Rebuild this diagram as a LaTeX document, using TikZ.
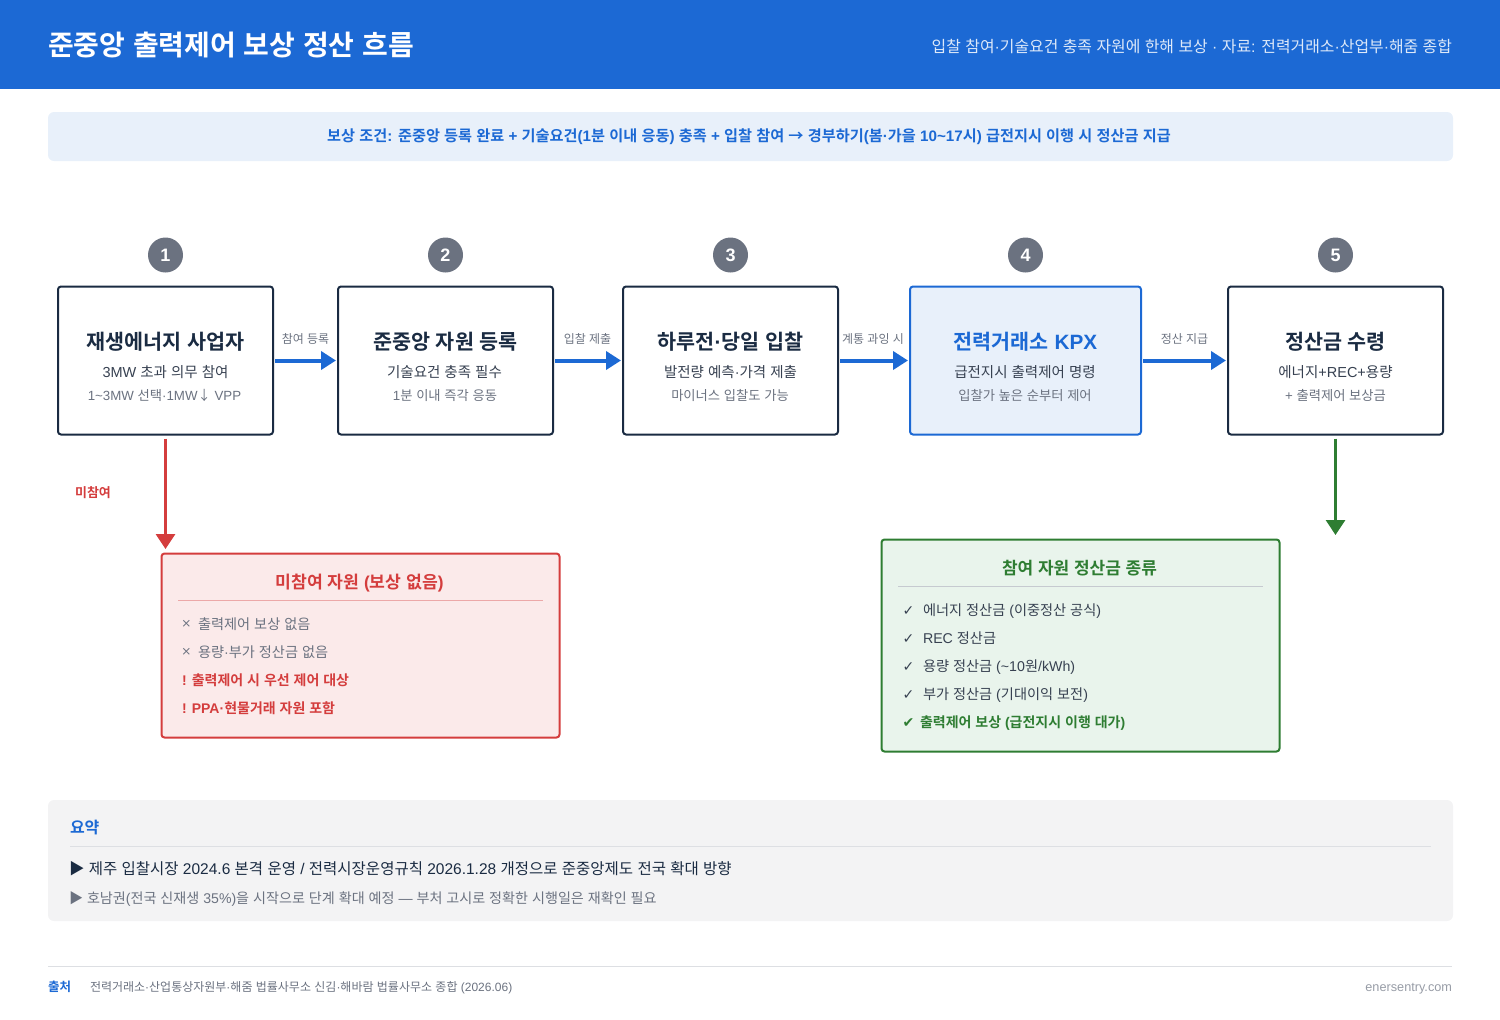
\documentclass[tikz,border=0pt]{standalone}
\usepackage{fontspec}
\usepackage{xcolor}
\setmainfont{Liberation Sans}
\newfontfamily\hangulfont{Noto Sans CJK KR}[BoldFont={Noto Sans CJK KR Bold}]
\newfontfamily\symfont{DejaVu Sans}
\usetikzlibrary{arrows.meta}
% hangul falls back to the CJK family, everything else stays latin
\newXeTeXintercharclass\hangulclass
\newXeTeXintercharclass\markclass
\newcount\hangulcode
\hangulcode="AC00
\loop
  \XeTeXcharclass\hangulcode=\hangulclass
\ifnum\hangulcode<"D7A3 \advance\hangulcode by 1 \repeat
\XeTeXcharclass"25B6=\hangulclass
\XeTeXcharclass"2193=\hangulclass
\XeTeXcharclass"2192=\hangulclass
\XeTeXcharclass"2713=\markclass
\XeTeXcharclass"2714=\markclass
\XeTeXcharclass"00D7=\markclass
\XeTeXinterchartokenstate=1
\XeTeXinterchartoks 0 \hangulclass={\hangulfont}
\XeTeXinterchartoks 4095 \hangulclass={\hangulfont}
\XeTeXinterchartoks \hangulclass 0={\rmfamily}
\XeTeXinterchartoks \hangulclass 4095={\rmfamily}
\XeTeXinterchartoks 4095 0={\rmfamily}
\definecolor{kpxblue}{HTML}{1C69D4}
\definecolor{kpxpale}{HTML}{E8F0FA}
\definecolor{inkdark}{HTML}{1A2B42}
\definecolor{inkbody}{HTML}{374151}
\definecolor{inkgray}{HTML}{6B7280}
\definecolor{alertred}{HTML}{D43D3D}
\definecolor{alertpale}{HTML}{FBEAEA}
\definecolor{okgreen}{HTML}{2E7D32}
\definecolor{okpale}{HTML}{E9F4EC}
\definecolor{sumgray}{HTML}{F3F3F4}
\definecolor{rulegray}{HTML}{DDDFE3}
\tikzset{
  every node/.style={inner sep=0pt, outer sep=0pt},
  stagebox/.style={draw=inkdark, fill=white, line width=2pt, rounded corners=3pt, minimum height=148pt},
  stagenum/.style={circle, fill=inkgray, text=white, minimum size=35pt, font=\fontsize{18}{20}\selectfont\bfseries},
  stagehead/.style={anchor=mid, text=inkdark, font=\fontsize{20.7}{25}\selectfont\bfseries},
  stagesub/.style={anchor=mid, text=inkbody, font=\fontsize{14.5}{18}\selectfont},
  stagenote/.style={anchor=mid, text=inkgray, font=\fontsize{13.3}{16}\selectfont},
  flowlabel/.style={anchor=mid, text=inkgray, font=\fontsize{12}{14}\selectfont},
  flowarrow/.style={draw=kpxblue, line width=4pt, -{Triangle[length=15pt,width=18pt]}, shorten <=2pt, shorten >=2pt},
  listitem/.style={anchor=mid west, text=inkbody, font=\fontsize{14.2}{18}\selectfont},
  listbold/.style={anchor=mid west, font=\fontsize{14}{18}\selectfont\bfseries},
  listmark/.style={anchor=mid, font=\symfont\fontsize{14}{16}\selectfont},
  crossmark/.style={anchor=mid, text=inkgray, font=\symfont\fontsize{12}{14}\selectfont},
}
\begin{document}
\begin{tikzpicture}[x=1pt, y=-1pt]
  \useasboundingbox (0,0) rectangle (1500,1020);
  % header
  \fill[kpxblue] (0,0) rectangle (1500,89);
  \node[anchor=mid west, text=white, font=\fontsize{28}{32}\selectfont\bfseries] (title) at (48,53) {준중앙 출력제어 보상 정산 흐름};
  \node[anchor=mid east, text=white!85!kpxblue, font=\fontsize{15.9}{20}\selectfont] (subtitle) at (1452,50) {입찰 참여·기술요건 충족 자원에 한해 보상 · 자료: 전력거래소·산업부·해줌 종합};
  % condition banner
  \fill[kpxpale, rounded corners=6pt] (48,112) rectangle (1453,161);
  \node[anchor=mid, text=kpxblue, font=\fontsize{15.2}{18}\selectfont\bfseries] (banner) at (749,139) {보상 조건: 준중앙 등록 완료 + 기술요건(1분 이내 응동) 충족 + 입찰 참여 → 경부하기(봄·가을 10\textasciitilde17시) 급전지시 이행 시 정산금 지급};
  % stages
  \node[stagebox, minimum width=215pt] (box1) at (165.5,360.5) {};
  \node[stagebox, minimum width=215pt] (box2) at (445.5,360.5) {};
  \node[stagebox, minimum width=215pt] (box3) at (730.5,360.5) {};
  \node[stagebox, minimum width=231pt, draw=kpxblue, fill=kpxpale] (box4) at (1025.5,360.5) {};
  \node[stagebox, minimum width=215pt] (box5) at (1335.5,360.5) {};
  \node[stagenum] (num1) at (165.5,255) {1};
  \node[stagenum] (num2) at (445.5,255) {2};
  \node[stagenum] (num3) at (730.5,255) {3};
  \node[stagenum] (num4) at (1025.5,255) {4};
  \node[stagenum] (num5) at (1335.5,255) {5};
  \node[stagehead] (head1) at (165.5,347) {재생에너지 사업자};
  \node[stagesub] (sub1) at (165.5,375) {3MW 초과 의무 참여};
  \node[stagenote] (note1) at (164.5,398) {1\textasciitilde3MW 선택·1MW↓ VPP};
  \node[stagehead] (head2) at (445.5,347) {준중앙 자원 등록};
  \node[stagesub] (sub2) at (444.5,375) {기술요건 충족 필수};
  \node[stagenote] (note2) at (445,398) {1분 이내 즉각 응동};
  \node[stagehead] (head3) at (730.5,347) {하루전·당일 입찰};
  \node[stagesub] (sub3) at (730.5,375) {발전량 예측·가격 제출};
  \node[stagenote] (note3) at (730,398) {마이너스 입찰도 가능};
  \node[stagehead, text=kpxblue] (head4) at (1025.5,347) {전력거래소 KPX};
  \node[stagesub] (sub4) at (1025,375) {급전지시 출력제어 명령};
  \node[stagenote] (note4) at (1025,398) {입찰가 높은 순부터 제어};
  \node[stagehead] (head5) at (1335.5,347) {정산금 수령};
  \node[stagesub] (sub5) at (1335.5,375) {에너지+REC+용량};
  \node[stagenote] (note5) at (1335.5,398) {+ 출력제어 보상금};
  % flow arrows
  \draw[flowarrow] (box1.east) -- (box2.west);
  \draw[flowarrow] (box2.east) -- (box3.west);
  \draw[flowarrow] (box3.east) -- (box4.west);
  \draw[flowarrow] (box4.east) -- (box5.west);
  \node[flowlabel] (flow1) at (305.5,341) {참여 등록};
  \node[flowlabel] (flow2) at (587.5,341) {입찰 제출};
  \node[flowlabel] (flow3) at (873,341) {계통 과잉 시};
  \node[flowlabel] (flow4) at (1184.5,341) {정산 지급};
  % red branch
  \coordinate (redtip) at (box1.south |- 0,549);
  \draw[draw=alertred, line width=3pt, -{Triangle[length=15pt,width=19pt]}, shorten <=4pt] (box1.south) -- (redtip);
  \node[anchor=mid, text=alertred, font=\fontsize{13}{16}\selectfont\bfseries] (skiplabel) at (93,495) {미참여};
  \node[draw=alertred, fill=alertpale, line width=2pt, rounded corners=3pt, minimum width=398pt, minimum height=184pt] (redbox) at (360.5,645.5) {};
  \node[anchor=mid, text=alertred, font=\fontsize{17.2}{20}\selectfont\bfseries] (redhead) at (359.5,586) {미참여 자원 (보상 없음)};
  \draw[alertred!45, line width=0.8pt] (178,600.5) -- (543,600.5);
  \node[crossmark] (rm1) at (186.5,625) {×};
  \node[listitem, text=inkgray] (ri1) at (198,627) {출력제어 보상 없음};
  \node[crossmark] (rm2) at (186.5,653) {×};
  \node[listitem, text=inkgray] (ri2) at (198,655) {용량·부가 정산금 없음};
  \node[listbold, text=alertred] (ri3) at (182,683) {! 출력제어 시 우선 제어 대상};
  \node[listbold, text=alertred] (ri4) at (182,711) {! PPA·현물거래 자원 포함};
  % green branch
  \coordinate (greentip) at (box5.south |- 0,535);
  \draw[draw=okgreen, line width=3pt, -{Triangle[length=15pt,width=19pt]}, shorten <=4pt] (box5.south) -- (greentip);
  \node[draw=okgreen, fill=okpale, line width=2pt, rounded corners=3pt, minimum width=398pt, minimum height=212pt] (greenbox) at (1080.5,645.5) {};
  \node[anchor=mid, text=okgreen, font=\fontsize{17}{20}\selectfont\bfseries] (greenhead) at (1079.5,572) {참여 자원 정산금 종류};
  \draw[inkdark!25, line width=0.8pt] (898,586.5) -- (1263,586.5);
  \node[listmark, text=inkbody] (gm1) at (908.5,613) {✓};
  \node[listitem] (gi1) at (923,613) {에너지 정산금 (이중정산 공식)};
  \node[listmark, text=inkbody] (gm2) at (908.5,641) {✓};
  \node[listitem] (gi2) at (923,641) {REC 정산금};
  \node[listmark, text=inkbody] (gm3) at (908.5,669) {✓};
  \node[listitem] (gi3) at (923,669) {용량 정산금 (\textasciitilde10원/kWh)};
  \node[listmark, text=inkbody] (gm4) at (908.5,697) {✓};
  \node[listitem] (gi4) at (923,697) {부가 정산금 (기대이익 보전)};
  \node[listmark, text=okgreen] (gm5) at (908.5,725) {✔};
  \node[listbold, text=okgreen] (gi5) at (920,725) {출력제어 보상 (급전지시 이행 대가)};
  % summary
  \fill[sumgray, rounded corners=6pt] (48,800) rectangle (1453,921);
  \node[anchor=mid west, text=kpxblue, font=\fontsize{16}{20}\selectfont\bfseries] (sumhead) at (70,831) {요약};
  \draw[rulegray, line width=1pt] (70,846.5) -- (1431,846.5);
  \node[anchor=mid west, text=inkdark, font=\fontsize{15.5}{20}\selectfont] (sumline1) at (69,872) {▶ 제주 입찰시장 2024.6 본격 운영 / 전력시장운영규칙 2026.1.28 개정으로 준중앙제도 전국 확대 방향};
  \node[anchor=mid west, text=inkgray, font=\fontsize{14.1}{18}\selectfont] (sumline2) at (69,901) {▶ 호남권(전국 신재생 35\%)을 시작으로 단계 확대 예정 — 부처 고시로 정확한 시행일은 재확인 필요};
  % footer
  \draw[rulegray, line width=1pt] (48,966.5) -- (1452,966.5);
  \node[anchor=mid west, text=kpxblue, font=\fontsize{12.5}{15}\selectfont\bfseries] (srchead) at (48,989) {출처};
  \node[anchor=mid west, text=inkgray, font=\fontsize{12}{15}\selectfont] (srcline) at (90,989) {전력거래소·산업통상자원부·해줌 법률사무소 신김·해바람 법률사무소 종합 (2026.06)};
  \node[anchor=mid east, text=inkgray!70, font=\fontsize{12.7}{15}\selectfont] (site) at (1452,989) {enersentry.com};
\end{tikzpicture}
\end{document}
